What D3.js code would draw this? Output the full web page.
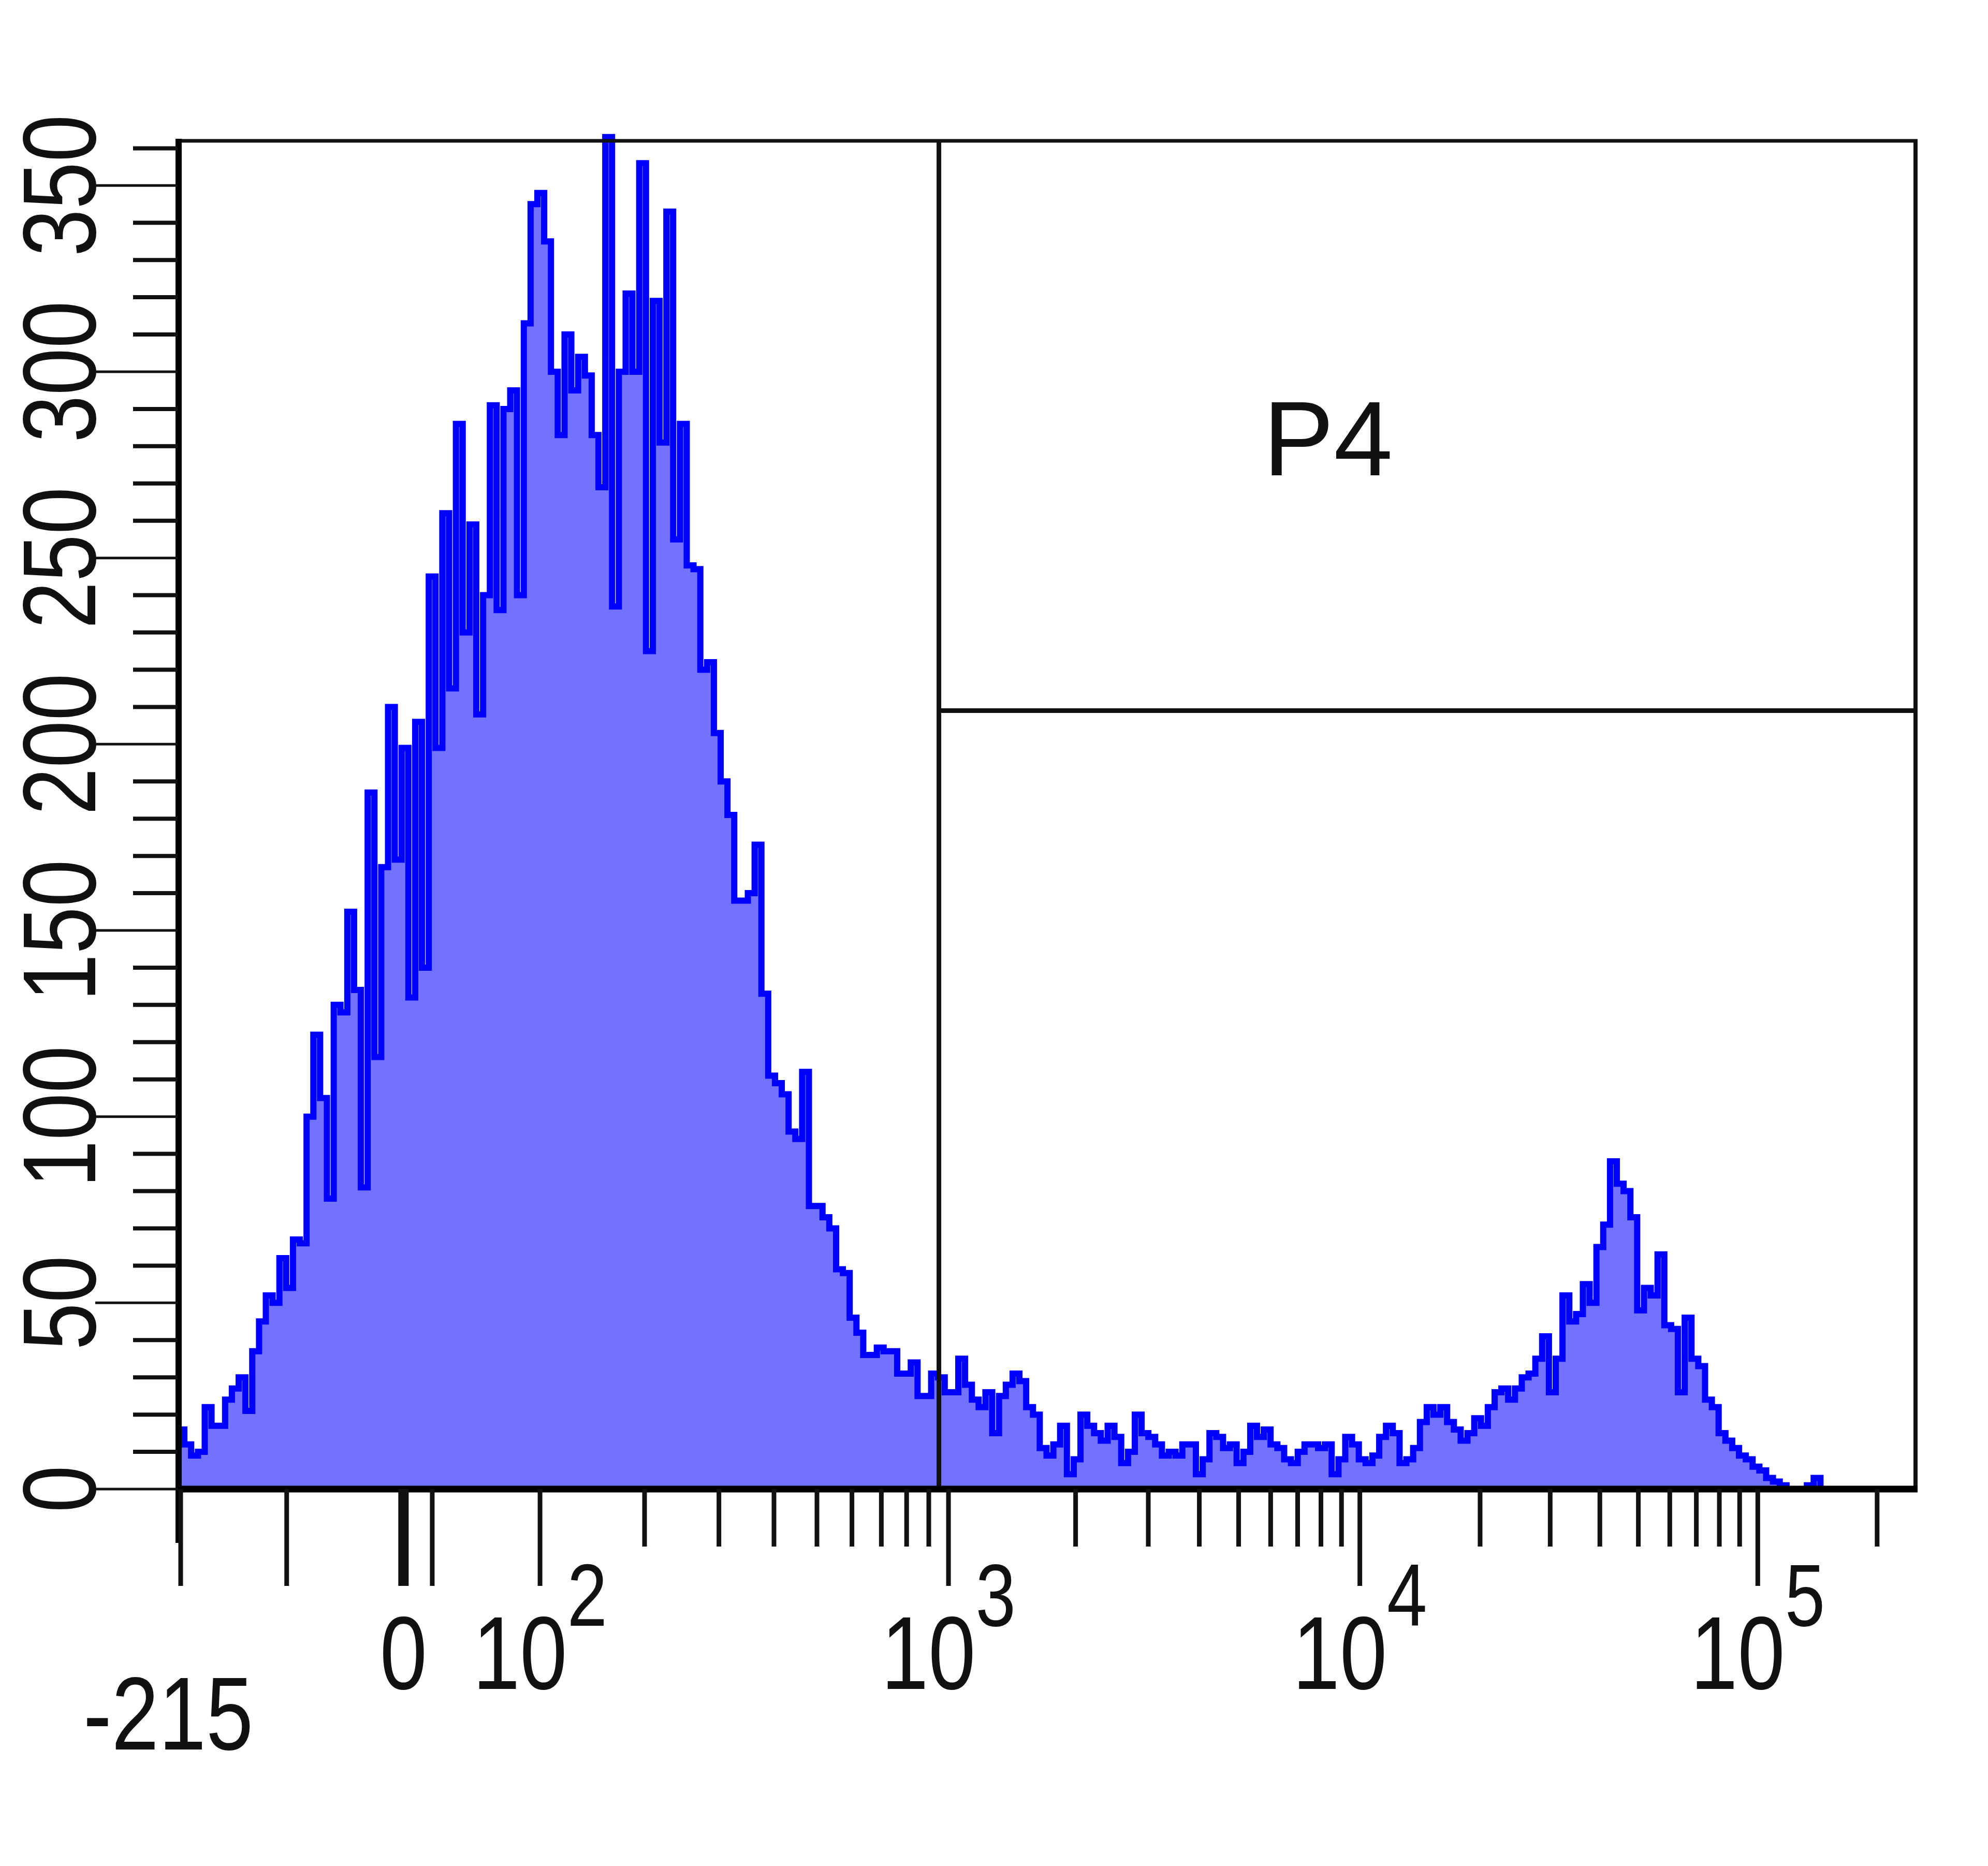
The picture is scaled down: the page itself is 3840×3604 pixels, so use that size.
<!DOCTYPE html>
<html><head><meta charset="utf-8">
<script src="https://cdn.jsdelivr.net/npm/d3@7"></script>
<style>html,body{margin:0;padding:0;background:#fff;} svg{display:block;}</style>
</head><body>
<svg id="chart" width="3840" height="3604"></svg>
<script>
// ---- data ----
// 256 histogram bins, uniform in biexponential display space, from -215 to the top of scale
const counts = [
 16,12,9,10,22,17,17,24,27,30,
 21,37,45,52,50,62,54,67,66,100,
 122,105,78,130,128,155,134,81,187,116,
 167,210,169,199,132,206,140,245,199,262,
 215,286,230,259,208,240,291,236,290,295,
 240,313,345,348,335,300,283,310,295,304,
 299,283,269,363,237,300,321,300,356,225,
 319,281,343,255,286,248,247,220,222,203,
 190,181,158,158,160,173,133,111,109,106,
 96,94,112,76,76,73,70,59,58,46,
 42,36,36,38,37,37,31,31,34,25,
 25,31,30,26,26,35,28,24,22,26,
 15,25,28,31,29,22,20,11,9,12,
 17,4,8,20,17,15,13,17,14,7,
 10,20,15,14,12,9,10,9,12,12,
 4,8,15,14,11,12,7,10,17,14,
 16,12,11,8,7,10,12,12,11,12,
 4,8,14,12,8,7,9,14,17,15,
 7,8,11,18,22,20,22,18,16,13,
 15,19,17,22,26,27,24,27,30,31,
 35,41,26,35,52,45,47,55,50,65,
 71,88,82,80,73,48,54,52,63,44,
 43,26,46,35,33,24,22,15,13,11,
 9,8,6,5,3,2,1,0,0,0,
 1,3,0,0,0,0,0,0,0,0,
 0,0,0,0,0,0
];
const xDomainMin = -215;
const xDomainMax = 250000;
const yDomainMax = 362;
const yMajorTicks = [0,50,100,150,200,250,300,350];
const yMinorTicks = [10,20,30,40,60,70,80,90,110,120,130,140,160,170,180,190,210,220,230,240,260,270,280,290,310,320,330,340,360];
const yTickLabels = ["0","50","100","150","200","250","300","350"];
const xMajorTicks = [-215,-100,0,20,100,1000,10000,100000];
const xMinorTicks = [200,300,400,500,600,700,800,900,2000,3000,4000,5000,6000,7000,8000,9000,
                     20000,30000,40000,50000,60000,70000,80000,90000,200000];
const xLabelValues = [0,100,1000,10000,100000];
const xLabelBases  = ["0","10","10","10","10"];
const xLabelExps   = ["","2","3","4","5"];
const xMinLabel = "-215";
const gateValue = 950;      // vertical gate boundary
const gateCount = 209;      // horizontal gate boundary (count level)
const gateName = "P4";

// ---- layout ----
const plotLeft = 343, plotRight = 3700, plotTop = 272, plotBottom = 2876;
const svg = d3.select('#chart');

// biexponential display transform
const C = 38, P = 2.14, NA = 1.385, NB = 196;
function biex(v){
  if (v < 0) return -NA*Math.asinh(-v/NB);
  let lo = 0, hi = 30;
  for (let k=0;k<90;k++){
    const m=(lo+hi)/2;
    const f=C*(Math.exp(m)-P*P*Math.exp(-m/P)+P*P-1);
    if (f<v) lo=m; else hi=m;
  }
  return (lo+hi)/2;
}
const z0 = biex(xDomainMin), z1 = biex(xDomainMax);
const x = d3.scaleLinear().domain([z0, z1]).range([plotLeft, plotRight]);
const xv = v => x(biex(v));
const y = d3.scaleLinear().domain([0, yDomainMax]).range([plotBottom, plotTop]);

// histogram points (bins uniform in display space)
const N = counts.length;
const binScale = d3.scaleLinear().domain([0, N]).range([z0, z1]);
const pts = counts.map((c,i)=>({z: binScale(i), c}));
pts.push({z: binScale(N), c: counts[N-1]});

svg.append('defs').append('clipPath').attr('id','clip')
  .append('rect').attr('x',plotLeft).attr('y',150).attr('width',plotRight-plotLeft).attr('height',plotBottom-150);

const g = svg.append('g').attr('clip-path','url(#clip)');
g.append('path').datum(pts)
  .attr('d', d3.area().x(d=>x(d.z)).y0(y(0)).y1(d=>y(d.c)).curve(d3.curveStepAfter))
  .attr('fill','#7272ff');
g.append('path').datum(pts)
  .attr('d', d3.line().x(d=>x(d.z)).y(d=>y(d.c)).curve(d3.curveStepAfter))
  .attr('fill','none').attr('stroke','#0000ff').attr('stroke-width',12);

// gate
const gx = xv(gateValue), gy = y(gateCount);
svg.append('line').attr('x1',gx).attr('x2',gx).attr('y1',plotTop).attr('y2',plotBottom)
  .attr('stroke','#111').attr('stroke-width',9);
svg.append('line').attr('x1',gx).attr('x2',plotRight).attr('y1',gy).attr('y2',gy)
  .attr('stroke','#111').attr('stroke-width',9);
svg.append('text').attr('x',2565).attr('y',918).attr('text-anchor','middle')
  .attr('font-family','Liberation Sans, Arial, sans-serif').attr('font-size',205).attr('fill','#111')
  .text(gateName);

// frame
svg.append('line').attr('x1',plotLeft).attr('x2',plotRight+4).attr('y1',plotTop).attr('y2',plotTop)
  .attr('stroke','#111').attr('stroke-width',7);
svg.append('line').attr('x1',plotRight).attr('x2',plotRight).attr('y1',plotTop-3).attr('y2',plotBottom+6)
  .attr('stroke','#111').attr('stroke-width',8);
svg.append('line').attr('x1',plotLeft+2).attr('x2',plotLeft+2).attr('y1',plotTop-4).attr('y2',2980)
  .attr('stroke','#000').attr('stroke-width',12);
svg.append('line').attr('x1',plotLeft-4).attr('x2',plotRight+4).attr('y1',plotBottom).attr('y2',plotBottom)
  .attr('stroke','#000').attr('stroke-width',13);

// y ticks
svg.append('g').selectAll('line').data(yMajorTicks).join('line')
  .attr('x1',184).attr('x2',plotLeft).attr('y1',d=>y(d)).attr('y2',d=>y(d))
  .attr('stroke','#111').attr('stroke-width',5);
svg.append('g').selectAll('line').data(yMinorTicks).join('line')
  .attr('x1',257).attr('x2',plotLeft).attr('y1',d=>y(d)).attr('y2',d=>y(d))
  .attr('stroke','#111').attr('stroke-width',8);
svg.append('g').selectAll('g').data(yMajorTicks).join('g')
  .attr('transform',d=>`translate(184,${y(d)}) rotate(-90) scale(0.82,1)`)
  .append('text').attr('text-anchor','middle')
  .attr('font-family','Liberation Sans, Arial, sans-serif').attr('font-size',200).attr('fill','#111')
  .text((d,i)=>yTickLabels[i]);

// x ticks
const ax = plotBottom;
svg.append('g').selectAll('line').data(xMajorTicks).join('line')
  .attr('x1',d=>xv(d)+(d===xDomainMin?6:0)).attr('x2',d=>xv(d)+(d===xDomainMin?6:0))
  .attr('y1',ax).attr('y2',3063)
  .attr('stroke','#111').attr('stroke-width',d=>d===0?20:9);
svg.append('g').selectAll('line').data(xMinorTicks).join('line')
  .attr('x1',d=>xv(d)).attr('x2',d=>xv(d)).attr('y1',ax).attr('y2',2987)
  .attr('stroke','#111').attr('stroke-width',9);

// x labels
const xl = svg.append('g').selectAll('g').data(xLabelValues).join('g')
  .attr('transform',d=>`translate(${xv(d)},3262) scale(0.82,1)`)
  .append('text').attr('text-anchor','middle')
  .attr('font-family','Liberation Sans, Arial, sans-serif').attr('font-size',200).attr('fill','#111');
xl.each(function(d,i){
  const t = d3.select(this);
  t.append('tspan').text(xLabelBases[i]);
  if (xLabelExps[i]) t.append('tspan').attr('dy',-122).attr('font-size',170).text(xLabelExps[i]);
});
svg.append('g').attr('transform',`translate(${xv(xDomainMin)-18},3379) scale(0.82,1)`)
  .append('text').attr('text-anchor','middle')
  .attr('font-family','Liberation Sans, Arial, sans-serif').attr('font-size',200).attr('fill','#111')
  .text(xMinLabel);
</script>
</body></html>
